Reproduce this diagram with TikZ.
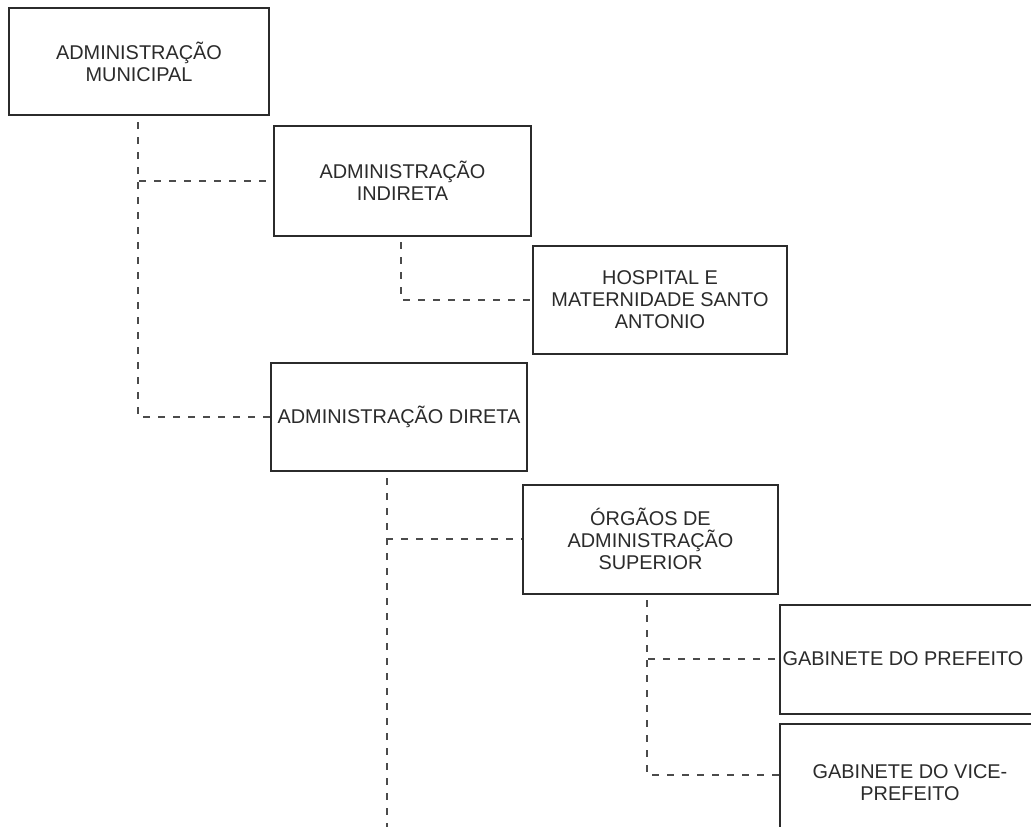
\documentclass[tikz,border=0pt]{standalone}
\usepackage{fontspec}
\setmainfont{Liberation Sans}
\usetikzlibrary{calc}
\definecolor{ink}{HTML}{2B2B2B}
\begin{document}
\begin{tikzpicture}[x=1pt,y=-1pt,
  box/.style={draw=ink, line width=2pt, text=ink, align=center, inner sep=0pt,
    font=\fontsize{19.9}{22}\selectfont},
  conn/.style={draw=ink!85, line width=2pt, dash pattern=on 7pt off 8pt}]
\useasboundingbox (0,0) rectangle (1031,827);
\fill[white] (0,0) rectangle (1031,827);
\clip (0,0) rectangle (1031,827);
\node[box, minimum width=260pt, minimum height=107pt] (mun) at (139,61.5) {ADMINISTRAÇÃO\\MUNICIPAL};
\node[box, minimum width=257pt, minimum height=110pt] (ind) at (402.5,181) {ADMINISTRAÇÃO\\INDIRETA};
\node[box, minimum width=254pt, minimum height=108pt] (hosp) at (660,300) {HOSPITAL E\\MATERNIDADE SANTO\\ANTONIO};
\node[box, minimum width=256pt, minimum height=108pt] (dir) at (399,417) {ADMINISTRAÇÃO DIRETA};
\node[box, minimum width=255pt, minimum height=109pt] (org) at (650.5,539) {ÓRGÃOS DE\\ADMINISTRAÇÃO\\SUPERIOR};
\node[box, minimum width=260pt, minimum height=109pt] (gp) at (910,659) {GABINETE DO PREFEITO\hspace*{14pt}};
\node[box, minimum width=260pt, minimum height=118pt] (gv) at (910,783) {GABINETE DO VICE-\\PREFEITO};
% connectors
\coordinate (m0) at (138,122);
\draw[conn] (m0) |- (ind.west);
\draw[conn] (m0) |- (dir.west);
\coordinate (i0) at (401,242);
\draw[conn] (i0) |- (hosp.west);
\coordinate (d0) at (387,478);
\coordinate (dend) at (387,840);
\draw[conn] (d0) |- (org.west);
\draw[conn] (d0) -- (dend);
\coordinate (o0) at (647,600);
\draw[conn] (o0) |- (gp.west);
\draw[conn] (o0) |- ($(gv.west)+(0,-8)$);
\end{tikzpicture}
\end{document}
